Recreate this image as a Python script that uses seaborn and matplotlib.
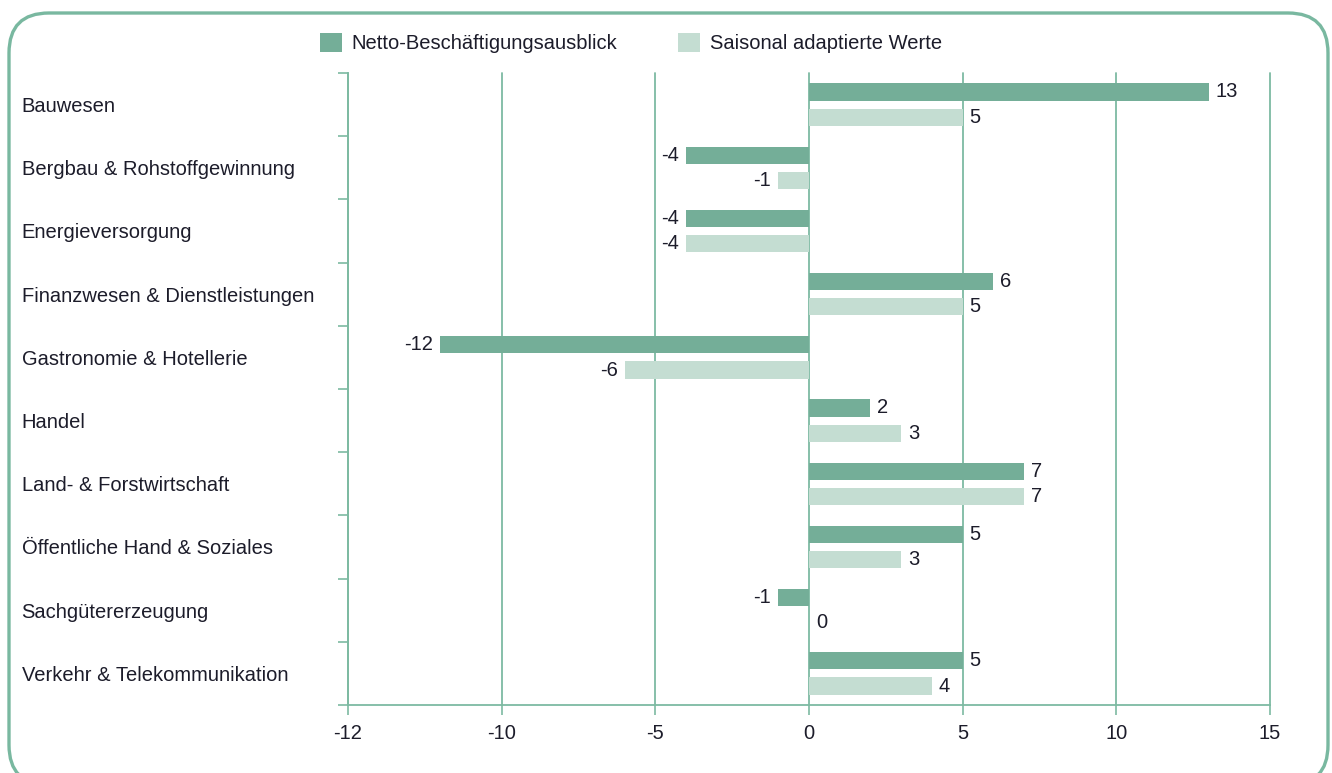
import matplotlib
matplotlib.use("Agg")
import matplotlib.pyplot as plt
from matplotlib.patches import FancyBboxPatch, Patch
import pandas as pd
import seaborn as sns

# Daten aus der Grafik
branchen = [
    "Bauwesen",
    "Bergbau & Rohstoffgewinnung",
    "Energieversorgung",
    "Finanzwesen & Dienstleistungen",
    "Gastronomie & Hotellerie",
    "Handel",
    "Land- & Forstwirtschaft",
    "Öffentliche Hand & Soziales",
    "Sachgütererzeugung",
    "Verkehr & Telekommunikation",
]
netto = [13, -4, -4, 6, -12, 2, 7, 5, -1, 5]
saisonal = [5, -1, -4, 5, -6, 3, 7, 3, 0, 4]
serien = ["Netto-Beschäftigungsausblick", "Saisonal adaptierte Werte"]
x_ticks = [-15, -10, -5, 0, 5, 10, 15]
x_labels = ["-12", "-10", "-5", "0", "5", "10", "15"]

DUNKEL = "#74ae98"
HELL = "#c4ddd2"
LINIE = "#7dbaa2"
TEXT = "#1c1c2a"
FS = 14.5

df = pd.DataFrame({
    "Branche": branchen * 2,
    "Wert": netto + saisonal,
    "Serie": [serien[0]] * len(branchen) + [serien[1]] * len(branchen),
})

sns.set_style("white")
plt.rcParams["font.family"] = ["Liberation Sans", "DejaVu Sans"]

fig = plt.figure(figsize=(13.32, 7.73), dpi=100)
ax = fig.add_axes([348 / 1332, 1 - 705 / 773, (1270 - 348) / 1332, (705 - 73) / 773])

sns.barplot(
    data=df, y="Branche", x="Wert", hue="Serie", order=branchen, hue_order=serien,
    palette=[DUNKEL, HELL], orient="h", width=0.8, gap=0.32, ax=ax, legend=False,
    saturation=1, linewidth=0,
)

for cont in ax.containers:
    ax.bar_label(cont, fmt="%g", padding=5, fontsize=FS, color=TEXT)

# Achsen
ax.set_xlim(-15, 15)
ax.set_ylim(len(branchen) - 0.5, -0.5)
ax.set_xticks(x_ticks)
ax.set_xticklabels(x_labels)
ax.set_yticks(range(len(branchen)))
ax.set_yticklabels(branchen, ha="left", va="center_baseline")
ax.set_yticks([i - 0.5 for i in range(len(branchen) + 1)], minor=True)
ax.tick_params(axis="y", which="major", length=0, pad=235, labelsize=FS, labelcolor=TEXT)
ax.tick_params(axis="y", which="minor", length=7, width=1.2, color=LINIE, direction="out", left=True)
ax.tick_params(axis="x", length=7, width=1.2, color=LINIE, direction="out", bottom=True,
               pad=7, labelsize=FS, labelcolor=TEXT)
ax.set_xlabel("")
ax.set_ylabel("")
ax.grid(axis="x", color=LINIE, linewidth=1.3)
for gl in ax.get_xgridlines():
    gl.set_clip_on(False)
ax.set_axisbelow(True)
for side in ["top", "right"]:
    ax.spines[side].set_visible(False)
for side in ["left", "bottom"]:
    ax.spines[side].set_color(LINIE)
    ax.spines[side].set_linewidth(1.3)

# Legende
handles = [Patch(facecolor=DUNKEL, edgecolor="none"), Patch(facecolor=HELL, edgecolor="none")]
fig.legend(handles, serien, loc="center", bbox_to_anchor=(631 / 1332, 1 - 43 / 773),
           ncol=2, frameon=False, fontsize=FS, handlelength=1.1, handleheight=1.1,
           handletextpad=0.5, columnspacing=3.0, labelcolor=TEXT)

# abgerundeter Rahmen
rahmen = FancyBboxPatch((0.09, -0.12), 13.19, 7.73 - 0.13 + 0.12,
                        boxstyle="round,pad=0,rounding_size=0.4",
                        transform=fig.dpi_scale_trans, facecolor="none",
                        edgecolor="#79b8a0", linewidth=2.4, clip_on=False)
fig.patches.append(rahmen)

fig.savefig("out.png", dpi=100)
plt.close(fig)
